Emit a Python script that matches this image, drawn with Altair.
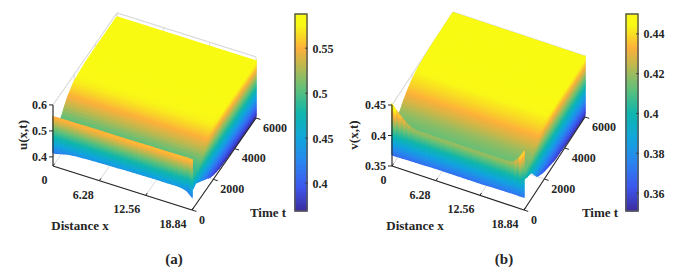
import altair as alt
import numpy as np
import pandas as pd

alt.data_transformers.disable_max_rows()

PARULA = ["#3b2a9c", "#3c58ee", "#2a84f0", "#10a6dc", "#0fb6ac", "#62c078", "#c4b84c", "#fdb03a", "#f9d428", "#f9f816", "#f9fb12"]
PARULA_POS = [0, 0.125, 0.25, 0.375, 0.5, 0.625, 0.75, 0.83, 0.885, 0.945, 1]
FONT = "Liberation Serif"
INK = "#262626"

# Values: surface heights at selected x and t
X_TICKS = [0, 6.28, 12.56, 18.84]
T_TICKS = [0, 2000, 4000, 6000]
X_KNOTS = [0, 0.5, 1.9, 3.0, 6.28, 9.42, 12.56, 15.7, 17.3, 18.2, 18.84]

T_INNER_A = [60, 300, 600, 850, 1100, 1400, 1700, 2000, 2500, 3000, 4000, 5000, 6000]
U_INNER_A = [0.49, 0.49, 0.497, 0.51, 0.532, 0.55, 0.563, 0.573, 0.579, 0.583, 0.585, 0.585, 0.585]
FRONT_LOW_A = [0.415, 0.418, 0.428, 0.432, 0.436, 0.438, 0.44, 0.44, 0.44, 0.432, 0.415]
FRONT_TOP_A = [0.553, 0.553, 0.554, 0.554, 0.555, 0.555, 0.556, 0.556, 0.557, 0.557, 0.557]
T_EDGE_A = [60, 300, 800, 1430, 1720, 2190, 2880, 4200, 6000]
U_EDGE_A = [0.44, 0.45, 0.43, 0.403, 0.39, 0.38, 0.373, 0.37, 0.368]

T_INNER_B = [60, 300, 600, 850, 1100, 1300, 1600, 1900, 2400, 3000, 4000, 5000, 6000]
V_INNER_B = [0.413, 0.414, 0.417, 0.421, 0.427, 0.431, 0.436, 0.44, 0.445, 0.447, 0.449, 0.449, 0.449]
FRONT_LOW_B = [0.368, 0.368, 0.369, 0.369, 0.37, 0.37, 0.37, 0.371, 0.371, 0.371, 0.371]
FRONT_TOP_B = [0.45, 0.443, 0.428, 0.4205, 0.42, 0.42, 0.42, 0.42, 0.421, 0.433, 0.445]
T_EDGE_B = [60, 300, 700, 1300, 1900, 3000, 4500, 6000]
V_EDGE_B = [0.40, 0.397, 0.394, 0.372, 0.364, 0.356, 0.353, 0.352]

CB_TICKS_A = [0.4, 0.45, 0.5, 0.55]
CB_TICKS_B = [0.36, 0.38, 0.4, 0.42, 0.44]


def panel(cfg):
    ox, oy = cfg["origin"]
    xv, tv, zs, zmin, zmax = cfg["xvec"], cfg["tvec"], cfg["zscale"], cfg["zmin"], cfg["zmax"]

    def proj(x, t, z):
        a, b = np.asarray(x) / 18.84, np.asarray(t) / 6000
        return (ox + xv[0] * a + tv[0] * b,
                oy + xv[1] * a + tv[1] * b - (np.asarray(z) - zmin) * zs)

    low = lambda x: np.interp(x, X_KNOTS, cfg["low"])
    top = lambda x: np.interp(x, X_KNOTS, cfg["top"])
    inner = lambda t: np.interp(t, cfg["t_in"], cfg["u_in"])
    edge = lambda t: np.interp(t, cfg["t_edge"], cfg["u_edge"])

    rows, q = [], 0

    def quad(pts):
        nonlocal q
        zm = float(np.mean([p[2] for p in pts]))
        for v, p in enumerate(pts + pts[:1]):
            sx, sy = proj(p[0], p[1], p[2])
            rows.append((round(float(sx), 1), round(float(sy), 1), round(zm, 4), q, v))
        q += 1

    # shading tessellation of the read surface, far to near
    t_lines = np.linspace(6000, 60, 75)
    for t1, t0 in zip(t_lines[:-1], t_lines[1:]):
        quad([(0, t1, inner(t1)), (18.84, t1, inner(t1)), (18.84, t0, inner(t0)), (0, t0, inner(t0))])
    xs = np.linspace(0, 18.84, 29)
    slope = np.linspace(1, 0, 6)
    for s1, s0 in zip(slope[:-1], slope[1:]):
        t1, t0 = 30 + 30 * s1, 30 + 30 * s0
        for xa, xb in zip(xs[:-1], xs[1:]):
            za1, zb1 = top(xa) + (inner(60) - top(xa)) * s1, top(xb) + (inner(60) - top(xb)) * s1
            za0, zb0 = top(xa) + (inner(60) - top(xa)) * s0, top(xb) + (inner(60) - top(xb)) * s0
            quad([(xa, t1, za1), (xb, t1, zb1), (xb, t0, zb0), (xa, t0, za0)])
    t_wall = np.linspace(6000, 60, 41)
    lev = np.linspace(0, 1, 25)
    for t1, t0 in zip(t_wall[:-1], t_wall[1:]):
        for l0, l1 in zip(lev[:-1], lev[1:]):
            f = lambda t, l: edge(t) + (inner(t) - edge(t)) * l
            quad([(18.84, t1, f(t1, l0)), (18.84, t1, f(t1, l1)), (18.84, t0, f(t0, l1)), (18.84, t0, f(t0, l0))])
    lev = np.linspace(0, 1, 31)
    for xa, xb in zip(xs[:-1], xs[1:]):
        for l0, l1 in zip(lev[:-1], lev[1:]):
            f = lambda x, l: low(x) + (top(x) - low(x)) * l
            quad([(xa, 0, f(xa, l0)), (xa, 0, f(xa, l1)), (xb, 0, f(xb, l1)), (xb, 0, f(xb, l0))])
    surface = pd.DataFrame(rows, columns=["sx", "sy", "z", "q", "v"])

    # box and grid behind the surface
    seg = []

    def s(p, r, shift=0):
        a, b = proj(*p), proj(*r)
        seg.append(dict(x=float(a[0]), y=float(a[1]), x2=float(b[0]) + shift, y2=float(b[1])))

    for x in X_TICKS:
        s((x, 0, zmin), (x, 6000, zmin))
        s((x, 6000, zmin), (x, 6000, zmax))
    for t in T_TICKS:
        s((0, t, zmin), (18.84, t, zmin))
        s((0, t, zmin), (0, t, zmax))
    for z in cfg["z_ticks"]:
        s((0, 0, z), (0, 6000, z))
        s((0, 6000, z), (18.84, 6000, z))
    s((0, 0, zmax), (0, 6000, zmax))
    s((0, 6000, zmax), (18.84, 6000, zmax))
    grid = pd.DataFrame(seg)

    seg = []
    s((0, 0, zmin), (18.84, 0, zmin))
    s((18.84, 0, zmin), (18.84, 6000, zmin))
    s((0, 0, zmin), (0, 0, zmax))
    dark_axes = pd.DataFrame(seg)
    seg = []
    for x in X_TICKS:
        s((x, 0, zmin), (x, 150, zmin))
    for t in T_TICKS:
        s((18.84, t, zmin), (18.84 + 0.6, t, zmin))
    for z in cfg["z_ticks"]:
        s((0, 0, z), (0, 0, z), shift=-4)
    ticks = pd.DataFrame(seg)

    xlabs = []
    for x, l in zip(X_TICKS, cfg["x_labels"]):
        sx, sy = proj(x, 0, zmin)
        xlabs.append(dict(sx=float(sx) - 5.5, sy=float(sy) + 14, t=l))
    xlabels = pd.DataFrame(xlabs)
    tlabs = []
    for t, l in zip(T_TICKS, cfg["t_labels"]):
        sx, sy = proj(18.84, t, zmin)
        tlabs.append(dict(sx=float(sx) + 7, sy=float(sy) + 9.5, t=l))
    tlabels = pd.DataFrame(tlabs)
    zlabs = []
    for z, l in zip(cfg["z_ticks"], cfg["z_labels"]):
        sx, sy = proj(0, 0, z)
        zlabs.append(dict(sx=float(sx) - 6, sy=float(sy), t=l))
    zlabels = pd.DataFrame(zlabs)

    X = lambda f: alt.X(f, type="quantitative", axis=None, scale=alt.Scale(domain=cfg["dom_x"], nice=False, zero=False))
    Y = lambda f: alt.Y(f, type="quantitative", axis=None, scale=alt.Scale(domain=[264, 8], nice=False, zero=False))
    lo, hi = cfg["cb"]
    col = alt.Scale(domain=[lo + (hi - lo) * p for p in PARULA_POS], range=PARULA, interpolate="rgb")

    def rule(df, color, w):
        return alt.Chart(df).mark_rule(color=color, strokeWidth=w).encode(x=X("x"), y=Y("y"), x2="x2", y2="y2")

    def text(df, size=12, **kw):
        return alt.Chart(df).mark_text(font=FONT, fontWeight="bold", fontSize=size, color=INK, **kw).encode(x=X("sx"), y=Y("sy"), text="t:N")

    surf = alt.Chart(surface).mark_line(strokeWidth=1.2).encode(
        x=X("sx"), y=Y("sy"), detail="q:N", order="v:Q",
        fill=alt.Fill("z:Q", scale=col, legend=None),
        stroke=alt.Stroke("z:Q", scale=col, legend=None),
    )
    main = alt.layer(
        rule(grid, "#dcdcdc", 1), surf, rule(dark_axes, INK, 1.1), rule(ticks, INK, 1),
        text(xlabels, align="right"), text(tlabels, align="left"), text(zlabels, align="right"),
        text(pd.DataFrame(cfg["titles"]), size=13),
        text(pd.DataFrame([cfg["caption"]]), size=15),
        text(pd.DataFrame([cfg["ztitle"]]), size=13, angle=270),
    ).properties(width=cfg["w"], height=256)

    # colorbar
    edges = np.linspace(lo, hi, 121)
    ramp = pd.DataFrame(dict(lo=edges[:-1], hi=edges[1:], mid=(edges[:-1] + edges[1:]) / 2))
    ys = alt.Scale(domain=[lo, hi], range=[203, 6], nice=False, zero=False)
    bar = alt.Chart(ramp).mark_rect(strokeWidth=1.2).encode(
        x=alt.value(0), x2=alt.value(12),
        y=alt.Y("lo:Q", scale=ys, axis=alt.Axis(orient="right", values=cfg["cb_ticks"], labelFont=FONT, labelFontWeight="bold",
                                               labelFontSize=12, labelColor=INK, tickSize=0, domain=False, grid=False, title=None,
                                               labelPadding=5, minExtent=28, maxExtent=28, labelExpr="format(datum.value,'.2~f')")),
        y2="hi:Q",
        fill=alt.Fill("mid:Q", scale=col, legend=None),
        stroke=alt.Stroke("mid:Q", scale=col, legend=None),
    )
    frame = alt.Chart(pd.DataFrame(dict(lo=[lo], hi=[hi]))).mark_rect(fill=None, stroke="#555555", strokeWidth=1.4).encode(
        x=alt.value(0), x2=alt.value(12), y=alt.Y("lo:Q", scale=ys), y2="hi:Q")
    tk = alt.Chart(pd.DataFrame(dict(v=cfg["cb_ticks"]))).mark_rule(color="#404040").encode(
        x=alt.value(10), x2=alt.value(13), y=alt.Y("v:Q", scale=ys))
    cbar = alt.layer(bar, frame, tk).properties(width=12, height=256)
    return main, cbar


A = dict(
    origin=(53, 166), xvec=(139, 44), tvec=(64, -92), zscale=260, zmin=0.365, zmax=0.6,
    low=FRONT_LOW_A, top=FRONT_TOP_A, t_in=T_INNER_A, u_in=U_INNER_A, t_edge=T_EDGE_A, u_edge=U_EDGE_A,
    z_ticks=[0.4, 0.5, 0.6], z_labels=["0.4", "0.5", "0.6"],
    x_labels=["0", "6.28", "12.56", "18.84"], t_labels=["0", "2000", "4000", "6000"],
    titles=[dict(sx=80, sy=226, t="Distance x"), dict(sx=268, sy=213, t="Time t")],
    caption=dict(sx=174, sy=259, t="(a)"),
    ztitle=dict(sx=23, sy=135, t="u(x,t)"), dom_x=[8, 288], w=280, cb=(0.369, 0.588), cb_ticks=CB_TICKS_A,
)
B = dict(
    origin=(391, 166), xvec=(132, 44), tvec=(61, -93), zscale=610, zmin=0.35, zmax=0.45,
    low=FRONT_LOW_B, top=FRONT_TOP_B, t_in=T_INNER_B, u_in=V_INNER_B, t_edge=T_EDGE_B, u_edge=V_EDGE_B,
    z_ticks=[0.35, 0.4, 0.45], z_labels=["0.35", "0.4", "0.45"],
    x_labels=["0", "6.28", "12.56", "18.84"], t_labels=["0", "2000", "4000", "6000"],
    titles=[dict(sx=414, sy=226, t="Distance x"), dict(sx=599, sy=213, t="Time t")],
    caption=dict(sx=503, sy=259, t="(b)"),
    ztitle=dict(sx=353, sy=135, t="v(x,t)"), dom_x=[340, 616], w=276, cb=(0.351, 0.45), cb_ticks=CB_TICKS_B,
)

ma, ca = panel(A)
mb, cb = panel(B)
chart = alt.hconcat(ma, ca, mb, cb, spacing=6).resolve_scale(fill="independent", stroke="independent", x="independent", y="independent").properties(
    padding=0, background="white"
).configure_view(stroke=None)
chart.save("out.html", embed_options={"renderer": "svg", "actions": False})
